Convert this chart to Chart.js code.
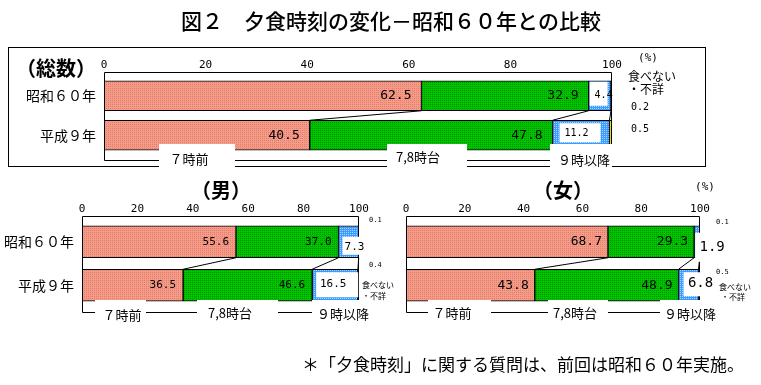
<!DOCTYPE html>
<html>
<head>
<meta charset="utf-8">
<script src="https://cdn.jsdelivr.net/npm/chart.js@4.4.1/dist/chart.umd.min.js"></script>
<style>
  body { margin: 0; width: 761px; height: 385px; background: #fff; position: relative; overflow: hidden; }
  canvas { position: absolute; left: 0; top: 0; }
  #frame { position: absolute; left: 8px; top: 47px; width: 696px; height: 118px; border: 1px solid #000; }
</style>
</head>
<body>
<div id="frame"></div>
<canvas id="chart-total" width="761" height="385"></canvas>
<canvas id="chart-male" width="761" height="385"></canvas>
<canvas id="chart-female" width="761" height="385"></canvas>
<script>
// --- datos ---
const categories = ['昭和６０年', '平成９年'];
const seriesNames = ['７時前', '7,8時台', '９時以降', '食べない・不詳'];
const xTicks = [0, 20, 40, 60, 80, 100];

const totalBefore7 = [62.5, 40.5];
const total7to8 = [32.9, 47.8];
const totalAfter9 = [4.4, 11.2];
const totalNone = [0.2, 0.5];

const maleBefore7 = [55.6, 36.5];
const male7to8 = [37.0, 46.6];
const maleAfter9 = [7.3, 16.5];
const maleNone = [0.1, 0.4];

const femaleBefore7 = [68.7, 43.8];
const female7to8 = [29.3, 48.9];
const femaleAfter9 = [1.9, 6.8];
const femaleNone = [0.1, 0.5];

const JP = '"Noto Sans CJK JP", sans-serif';
const MONO = '"DejaVu Sans Mono", monospace';
Chart.defaults.color = '#000';

// tramas punteadas como en el original
function dotPattern(base, dot) {
    const c = document.createElement('canvas');
    c.width = 2; c.height = 2;
    const g = c.getContext('2d');
    g.fillStyle = base; g.fillRect(0, 0, 2, 2);
    g.fillStyle = dot; g.fillRect(0, 0, 1, 1);
    return g.createPattern(c, 'repeat');
}
const fills = [
    dotPattern('#f79a88', '#d9806f'),
    dotPattern('#00c400', '#009000'),
    dotPattern('#3a9cff', '#a8d4ff'),
    '#ffff00'
];

function text(ctx, t, x, y, font, align) {
    ctx.font = font;
    ctx.textAlign = align || 'center';
    ctx.textBaseline = 'middle';
    ctx.fillStyle = '#000';
    ctx.fillText(t, x, y);
}

function makePanel(canvasId, series, p) {
    const decor = {
        id: 'decor',
        afterDatasetsDraw(chart) {
            const ctx = chart.ctx;
            const area = chart.chartArea;
            const bar = (ds, i) => chart.getDatasetMeta(ds).data[i].getProps(['x', 'base', 'y', 'height'], true);
            const tops = [0, 1].map(i => { const b = bar(0, i); return b.y - b.height / 2; });
            const bots = [0, 1].map(i => { const b = bar(0, i); return b.y + b.height / 2; });
            ctx.save();
            ctx.strokeStyle = '#000';
            ctx.lineWidth = 1;

            // marco del area
            const fy = Math.round(tops[0] - p.frameGap) + 0.5;
            const L = Math.round(area.left) + 0.5, R = Math.round(area.right) - 0.5;
            ctx.beginPath();
            ctx.moveTo(L, p.bracket.y + 0.5);
            ctx.lineTo(L, fy);
            ctx.lineTo(R, fy);
            ctx.lineTo(R, bots[1]);
            ctx.moveTo(L, p.bracket.y + 0.5);
            ctx.lineTo(R, p.bracket.y + 0.5);
            ctx.stroke();

            // lineas de cambio entre años
            ctx.beginPath();
            for (let k = 0; k < 3; k++) {
                ctx.moveTo(bar(k, 0).x, bots[0]);
                ctx.lineTo(bar(k, 1).x, tops[1]);
            }
            ctx.stroke();

            // valores dentro de las barras
            for (let k = 0; k < 2; k++) {
                series[k].forEach((v, i) => {
                    const b = bar(k, i);
                    text(ctx, v.toFixed(1), b.x - p.valueInset, b.y, p.valueFont, 'right');
                });
            }
            // valores "9時以降" en cajas blancas
            series[2].forEach((v, i) => {
                const b = bar(2, i);
                const s = p.boxes[i];
                ctx.fillStyle = '#fff';
                ctx.fillRect(b.base + s[0], tops[i] + s[2], s[1], s[3] - s[2]);
                text(ctx, v.toFixed(1), b.base + s[4], tops[i] + s[5], p.boxFont, 'center');
            });
            // "食べない・不詳" fuera del area
            series[3].forEach((v, i) => {
                text(ctx, v.toFixed(1), area.right + p.side.dx, tops[i] + p.side.dy[i], p.side.font, 'left');
            });

            // corchete inferior con nombres de serie
            p.bracket.items.forEach((it, k) => {
                ctx.fillStyle = '#fff';
                ctx.fillRect(it[0], p.bracket.boxTop, it[1] - it[0], p.bracket.y + 9 - p.bracket.boxTop);
                text(ctx, seriesNames[k], it[2], it[3], p.bracket.font, 'center');
            });

            p.notes.forEach(n => text(ctx, n[0], n[1], n[2], n[3], n[4]));
            ctx.restore();
        }
    };

    return new Chart(document.getElementById(canvasId), {
        type: 'bar',
        data: {
            labels: categories,
            datasets: series.map((vals, k) => ({
                label: seriesNames[k],
                data: vals,
                backgroundColor: fills[k],
                borderColor: '#000',
                borderWidth: 1,
                borderSkipped: false,
                barThickness: p.barThickness
            }))
        },
        options: {
            indexAxis: 'y',
            responsive: false,
            animation: false,
            events: [],
            layout: { padding: p.padding },
            plugins: { legend: { display: false }, tooltip: { enabled: false } },
            scales: {
                x: {
                    stacked: true,
                    position: 'top',
                    min: 0,
                    max: 100,
                    afterBuildTicks: s => { s.ticks = xTicks.map(v => ({ value: v })); },
                    ticks: { padding: 4, font: { family: MONO, size: p.tickSize } },
                    grid: { display: false, drawTicks: false },
                    border: { display: false },
                    afterFit: s => { s.height = 20; }
                },
                y: {
                    stacked: true,
                    display: p.showY,
                    ticks: { padding: 8, font: { family: JP, size: 14 } },
                    grid: { display: false, drawTicks: false },
                    border: { display: false },
                    afterFit: s => { s.width = p.yWidth; }
                }
            }
        },
        plugins: [decor]
    });
}

// (総数)
makePanel('chart-total', [totalBefore7, total7to8, totalAfter9, totalNone], {
    padding: { left: 14, right: 149, top: 56, bottom: 230 },
    yWidth: 90, showY: true, tickSize: 11, barThickness: 30, frameGap: 9,
    valueInset: 10, valueFont: '13px ' + MONO, boxFont: '10px ' + MONO,
    boxes: [[1, 18, 1, 25, 15, 15], [7, 41, 3, 22, 24, 13]],
    side: { dx: 19, dy: [27, 9], font: '10px ' + MONO },
    bracket: {
        y: 160, boxTop: 144, font: '13px ' + JP,
        items: [[159, 235, 189, 159], [387, 467, 418, 157], [550, 612, 584, 160]]
    },
    notes: [
        ['図２　夕食時刻の変化－昭和６０年との比較', 391, 21, '500 21px ' + JP, 'center'],
        ['（総数）', 56, 68, 'bold 20px ' + JP, 'center'],
        ['(%)', 648, 58, '11px ' + MONO, 'center'],
        ['食べない', 628, 76, '12px ' + JP, 'left'],
        ['・不詳', 628, 89, '12px ' + JP, 'left'],
        ['＊「夕食時刻」に関する質問は、前回は昭和６０年実施。', 523, 365, '17px ' + JP, 'center']
    ]
});

// (男)
makePanel('chart-male', [maleBefore7, male7to8, maleAfter9, maleNone], {
    padding: { left: 2, right: 402, top: 200, bottom: 78 },
    yWidth: 80, showY: true, tickSize: 11, barThickness: 32, frameGap: 10,
    valueInset: 7, valueFont: '11px ' + MONO, boxFont: '11px ' + MONO,
    boxes: [[4, 22, 11, 29, 16, 21], [4, 42, 3, 28, 21, 15]],
    side: { dx: 10, dy: [-6, -4], font: '7px ' + MONO },
    bracket: {
        y: 312, boxTop: 300, font: '13px ' + JP,
        items: [[95, 146, 122, 315], [197, 278, 230, 313], [312, 372, 343, 314]]
    },
    notes: [
        ['（男）', 221, 190, 'bold 20px ' + JP, 'center'],
        ['食べない', 362, 285, '8px ' + JP, 'left'],
        ['・不詳', 362, 296, '8px ' + JP, 'left']
    ]
});

// (女)
makePanel('chart-female', [femaleBefore7, female7to8, femaleAfter9, femaleNone], {
    padding: { left: 406, right: 61, top: 200, bottom: 78 },
    yWidth: 0, showY: false, tickSize: 11, barThickness: 32, frameGap: 10,
    valueInset: 6, valueFont: '13px ' + MONO, boxFont: '14px ' + MONO,
    boxes: [[1, 30, 7, 36, 18, 22], [5, 30, 3, 27, 22, 14]],
    side: { dx: 16, dy: [-4, 3], font: '7px ' + MONO },
    bracket: {
        y: 312, boxTop: 300, font: '13px ' + JP,
        items: [[428, 491, 452, 313], [548, 608, 575, 313], [660, 720, 690, 314]]
    },
    notes: [
        ['（女）', 563, 190, 'bold 20px ' + JP, 'center'],
        ['(%)', 705, 187, '11px ' + MONO, 'center'],
        ['食べない', 719, 287, '8px ' + JP, 'left'],
        ['・不詳', 721, 297, '8px ' + JP, 'left']
    ]
});
</script>
</body>
</html>
